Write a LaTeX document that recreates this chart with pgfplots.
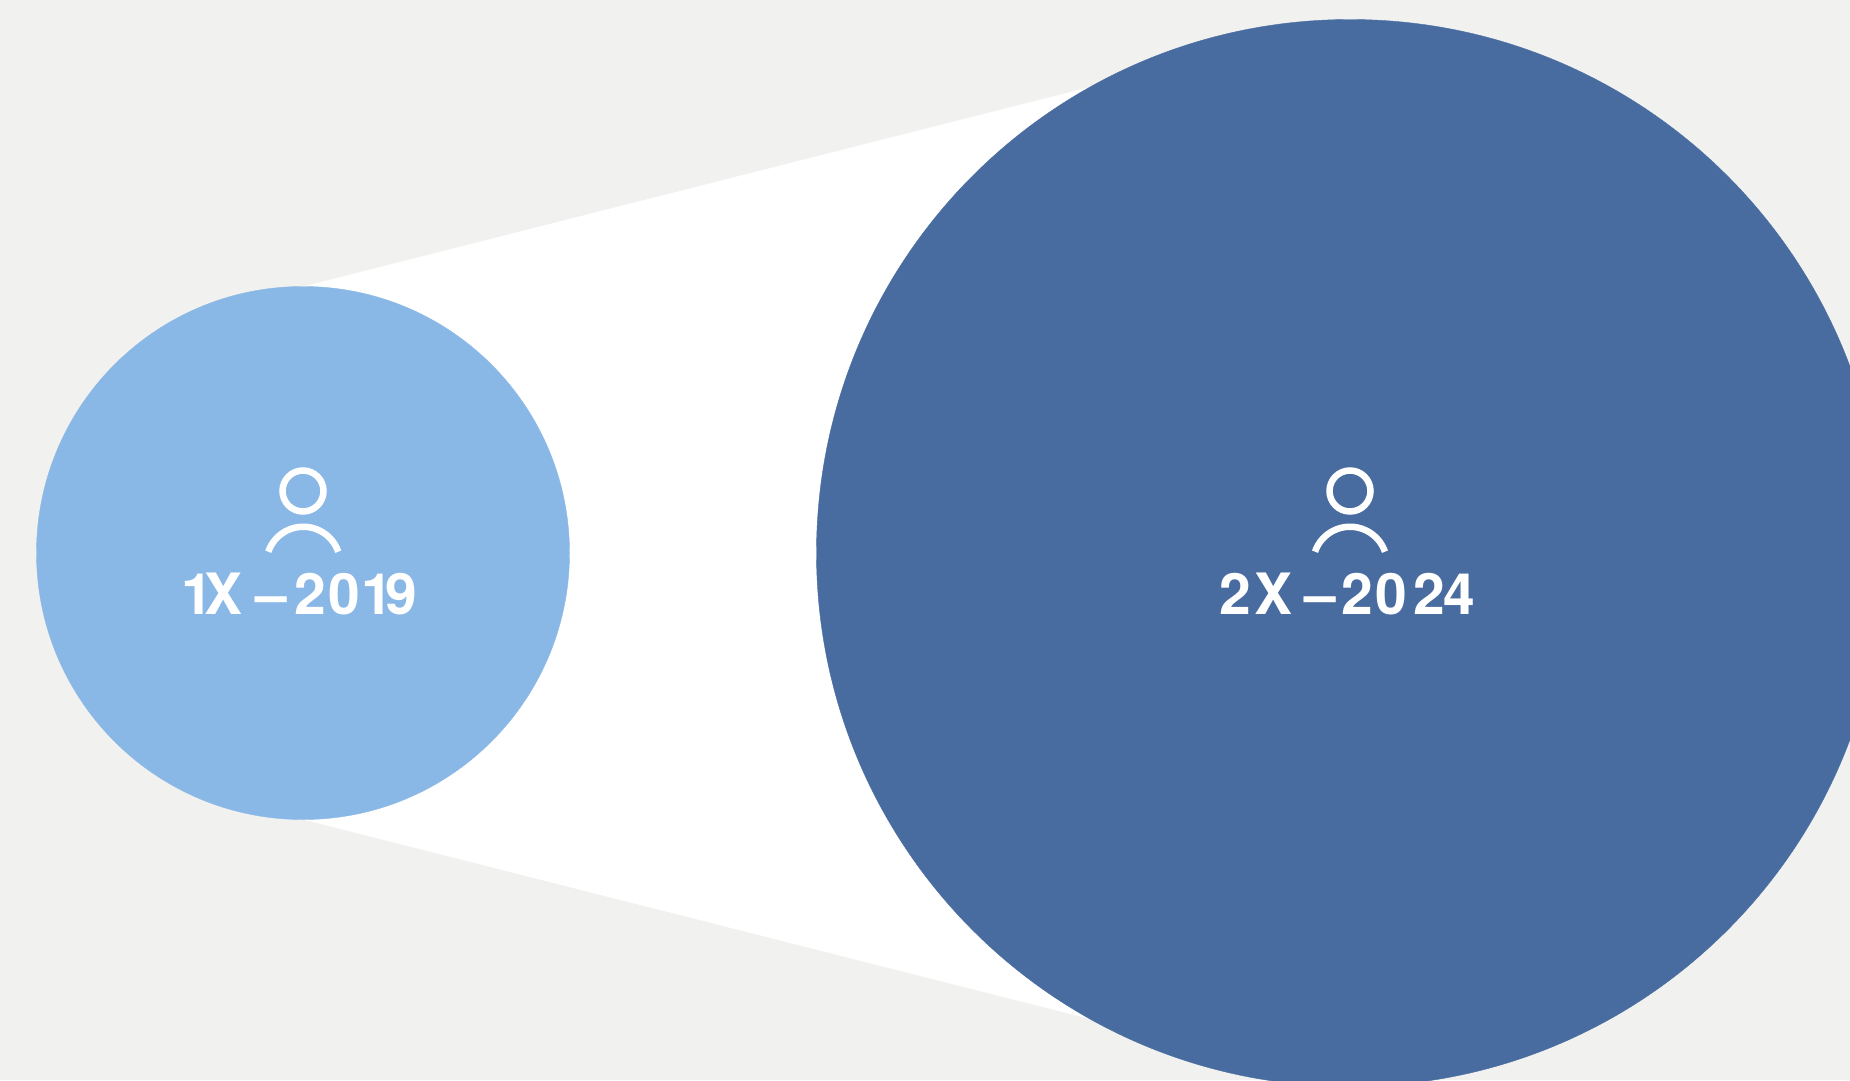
\documentclass[border=0pt]{standalone}
\usepackage{pgfplots}
\pgfplotsset{compat=1.18}
\usepackage{fontspec}
\setmainfont{TeX Gyre Heros}
\newfontfamily\lab[LetterSpace=-1]{TeX Gyre Heros}
\definecolor{bg}{HTML}{F1F1F0}
\definecolor{light}{HTML}{8AB8E6}
\definecolor{dark}{HTML}{496CA0}
\pgfplotsset{base/.style={at={(0,0)},anchor=south west,scale only axis,width=1850pt,height=1080pt,
  xmin=0,xmax=1850,ymin=0,ymax=1080,y dir=reverse,hide axis,clip mode=global}}
\begin{document}
\begin{tikzpicture}[x=1pt,y=1pt]
\path[use as bounding box] (0,0) rectangle (1850,1080);
\fill[bg] (0,0) rectangle (1850,1080);
\begin{axis}[base]
\addplot[fill=white,draw=none] coordinates {(303,286.5) (1090,87) (1350,553) (1090,1019) (303,819.5)} --cycle;
\addplot[only marks,mark=*,mark size=266.5pt,color=light] coordinates {(303,553)};
\addplot[only marks,mark=*,mark size=533.5pt,color=dark] coordinates {(1350,553)};
\end{axis}
\begin{axis}[base]
\addplot[only marks,mark=o,mark size=20.5pt,mark options={draw=white,line width=6.5pt}] coordinates {(303,491) (1350,491)};
\draw[white,line width=6.5pt] (axis cs:268.3,551.7) arc[start angle=161,end angle=19,radius=37pt];
\draw[white,line width=6.5pt] (axis cs:1315,551.7) arc[start angle=161,end angle=19,radius=37pt];
\node[anchor=base west,inner sep=0pt,text=white] at (axis cs:181.4,614) {\fontsize{57}{57}\lab\bfseries 1\kern-9pt X \kern-2pt – \kern-8pt 2\kern2pt 0\kern2pt 1\kern-8pt 9};
\node[anchor=base west,inner sep=0pt,text=white] at (axis cs:1219,614) {\fontsize{57}{57}\lab\bfseries 2\kern3.5pt X \kern-3.5pt – \kern-9.5pt 2\kern2.5pt 0\kern6pt 2\kern-2pt 4};
\end{axis}
\end{tikzpicture}
\end{document}
